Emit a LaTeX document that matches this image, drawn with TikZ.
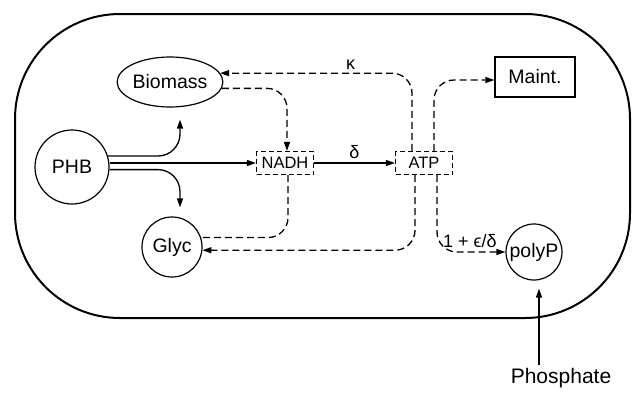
\documentclass[tikz,border=0pt]{standalone}
\usepackage{fontspec}
\setmainfont{Liberation Sans}
\usetikzlibrary{arrows.meta,positioning,calc,shapes.geometric}

\tikzset{
    pool/.style={draw, line width=1.2pt, circle, inner sep=0pt, font=\fontsize{19.5}{21}\selectfont},
    carrier/.style={draw, line width=1.2pt, dash pattern=on 5pt off 3pt, minimum width=57pt, minimum height=23pt, inner sep=0pt, font=\fontsize{16.5}{18}\selectfont},
    flow/.style={line width=1.3pt, -{Triangle[length=9pt,width=6pt]}},
    dline/.style={line width=1.3pt, dash pattern=on 7pt off 4pt, rounded corners=20pt},
    dflow/.style={dline, -{Triangle[length=9pt,width=6pt]}},
    lbl/.style={font=\fontsize{18}{20}\selectfont}
}

\begin{document}
\begin{tikzpicture}[x=1pt,y=-1pt]
    \useasboundingbox (0,0) rectangle (632,392);

    % Cell
    \draw[line width=2pt, rounded corners=105pt] (15,14) rectangle (630,318);

    % Pools
    \node[pool, minimum size=74pt] (PHB) at (72,167) {PHB};
    \node[pool, ellipse, minimum width=98pt, minimum height=50pt] (Biomass) at (170,82) {Biomass};
    \node[pool, minimum size=60pt] (Glyc) at (172,247) {Glyc};
    \node[pool, minimum size=56pt] (polyP) at (534,252) {polyP};
    \node[draw, line width=1.2pt, minimum width=80pt, minimum height=40pt, font=\fontsize{19.5}{21}\selectfont] (Maint) at (535,77) {Maint.};

    % Energy carriers
    \node[carrier] (NADH) at (285,163) {NADH};
    \node[carrier] (ATP) at (424,163) {ATP};

    % Outside
    \node[font=\fontsize{21}{23}\selectfont] (Phosphate) at (561,378) {Phosphate};

    % PHB consumption
    \draw[flow, rounded corners=22pt, shorten >=12pt] (PHB.17) -| ([xshift=10pt]Biomass.south);
    \draw[flow] (PHB.east |- NADH.west) -- (NADH.west);
    \draw[flow, rounded corners=22pt, shorten >=9pt] (PHB.-4) -| ([xshift=8pt]Glyc.north);
    \draw[flow] (NADH) -- node[lbl, above] {δ} (ATP);

    % Dashed fluxes
    \draw[dflow] (Biomass.-7) -| ([xshift=2pt]NADH.north);
    \draw[dflow] ([xshift=-12pt]ATP.north) |- node[lbl, above, pos=0.66] {κ} (Biomass.10);
    \draw[dflow] ([xshift=10pt]ATP.north) |- ([yshift=-3pt]Maint.west);
    \draw[dline] ([xshift=3pt]NADH.south) |- (Glyc.18);
    \draw[dflow] ([xshift=-9pt]ATP.south) |- (Glyc.-6);
    \draw[dflow] ([xshift=13pt]ATP.south) |- node[lbl, above, pos=0.74] {1 + ϵ/δ} (polyP.west);

    % Uptake
    \draw[flow, shorten >=8pt] ([xshift=5pt]polyP.south |- Phosphate.north) -- ([xshift=5pt]polyP.south);
\end{tikzpicture}
\end{document}
